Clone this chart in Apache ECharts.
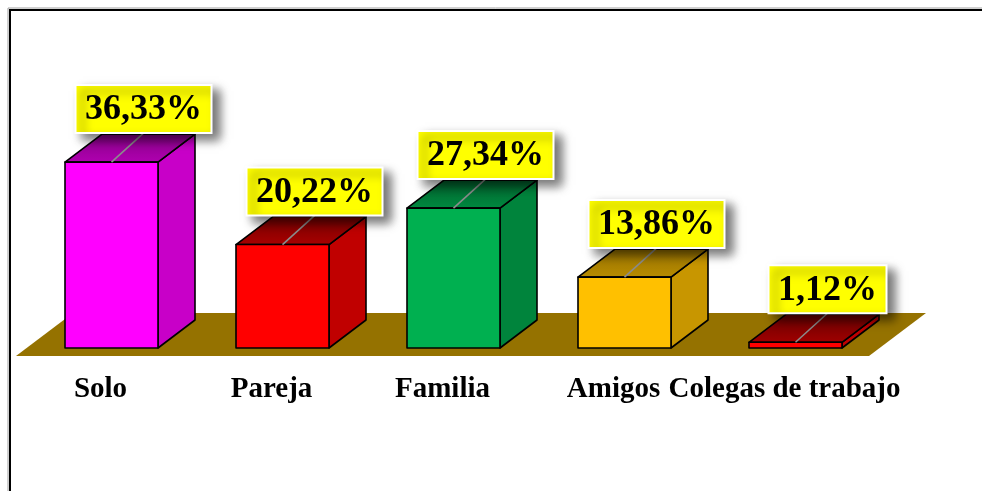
<!DOCTYPE html>
<html>
<head>
<meta charset="utf-8">
<script src="https://cdn.jsdelivr.net/npm/echarts@6/dist/echarts.min.js"></script>
<style>
  html, body { margin: 0; padding: 0; background: #fff; }
  #main { width: 982px; height: 491px; }
</style>
</head>
<body>
<div id="main"></div>
<script>
const categories = ["Solo", "Pareja", "Familia", "Amigos", "Colegas de trabajo"];
const values = [36.33, 20.22, 27.34, 13.86, 1.12];

// colores de cada barra: frente, lateral, tapa (fondo / frente)
const frontColors = ["#ff00ff", "#ff0000", "#00b050", "#ffc000", "#ff0000"];
const sideColors = ["#c800c8", "#c00000", "#00843c", "#c89600", "#c00000"];
const topBack = ["#8a008a", "#780000", "#00602c", "#9a7400", "#6a0000"];
const topFront = ["#b000b0", "#a80000", "#008a40", "#b88c00", "#a00000"];

const serif = '"Liberation Serif", "Times New Roman", serif';
const DX = 37, DY = -28, BAR_W = 93;

const measureCtx = document.createElement("canvas").getContext("2d");
function textWidth(txt, font) {
  measureCtx.font = font;
  return measureCtx.measureText(txt).width;
}

const fmt = (v) => v.toFixed(2).replace(".", ",") + "%";

function renderFloor(params, api) {
  const cs = params.coordSys;
  const y0 = api.coord([0, 0])[1] + 8;
  return {
    type: "polygon",
    shape: {
      points: [
        [cs.x - 10, y0],
        [cs.x + cs.width - 12, y0],
        [cs.x + cs.width + 45, y0 - 43],
        [cs.x + 47, y0 - 43],
      ],
    },
    style: { fill: "#957200" },
  };
}

function renderBar(params, api) {
  const i = api.value(0);
  const v = api.value(1);
  const top = api.coord([i, v]);
  const bot = api.coord([i, 0]);
  const cx = top[0];
  const x0 = cx - BAR_W / 2, x1 = cx + BAR_W / 2;
  const yT = top[1], yB = bot[1];
  const stroke = { stroke: "#000", lineWidth: 1.6, lineJoin: "round" };

  const label = fmt(v);
  const font = "bold 36px " + serif;
  const bw = textWidth(label, font) + 19;
  const bh = 48;
  const bx = cx + 32;
  const by = yT - 29;

  return {
    type: "group",
    children: [
      {
        type: "polygon",
        shape: { points: [[x1, yT], [x1 + DX, yT + DY], [x1 + DX, yB + DY], [x1, yB]] },
        style: Object.assign({ fill: sideColors[i] }, stroke),
      },
      {
        type: "polygon",
        shape: { points: [[x0, yT], [x1, yT], [x1 + DX, yT + DY], [x0 + DX, yT + DY]] },
        style: Object.assign({
          fill: new echarts.graphic.LinearGradient(0, 0, 0, 1, [
            { offset: 0, color: topBack[i] },
            { offset: 1, color: topFront[i] },
          ]),
        }, stroke),
      },
      {
        type: "rect",
        shape: { x: x0, y: yT, width: BAR_W, height: yB - yT },
        style: Object.assign({ fill: frontColors[i] }, stroke),
      },
      {
        type: "line",
        shape: { x1: cx, y1: yT, x2: bx, y2: by },
        style: { stroke: "#8c8c8c", lineWidth: 1.6 },
      },
      {
        type: "rect",
        shape: { x: bx - bw / 2, y: by - bh, width: bw, height: bh },
        style: {
          fill: "#ffff00",
          stroke: "#ffffff",
          lineWidth: 2,
          shadowBlur: 10,
          shadowOffsetX: 7,
          shadowOffsetY: 6,
          shadowColor: "rgba(0,0,0,0.55)",
        },
      },
      {
        type: "text",
        x: bx,
        y: by - bh / 2 + 1,
        style: {
          text: label,
          font: font,
          fill: "#000",
          align: "center",
          verticalAlign: "middle",
        },
      },
    ],
  };
}

const chart = echarts.init(document.getElementById("main"));
chart.setOption({
  animation: false,
  grid: { left: 26, right: 101, top: 41, bottom: 143 },
  xAxis: {
    type: "category",
    data: categories,
    axisLine: { show: false },
    axisTick: { show: false },
    axisLabel: {
      interval: 0,
      margin: 27,
      color: "#000",
      fontFamily: serif,
      fontWeight: "bold",
      fontSize: 29,
      padding: [0, 22, 0, 0],
    },
  },
  yAxis: {
    type: "value",
    min: 0,
    max: 60,
    show: false,
    splitLine: { show: false },
  },
  graphic: [
    {
      type: "rect",
      shape: { x: 8, y: 8, width: 1000, height: 500 },
      style: { fill: "none", stroke: "#a0a0a0", lineWidth: 1 },
      z: 10,
    },
    {
      type: "rect",
      shape: { x: 10, y: 10, width: 1000, height: 500 },
      style: { fill: "none", stroke: "#000", lineWidth: 2 },
      z: 10,
    },
  ],
  series: [
    {
      type: "custom",
      renderItem: renderFloor,
      data: [[0, 0]],
      silent: true,
      z: 1,
    },
    {
      type: "custom",
      renderItem: renderBar,
      data: values.map((v, i) => [i, v]),
      z: 2,
    },
  ],
});
</script>
</body>
</html>
